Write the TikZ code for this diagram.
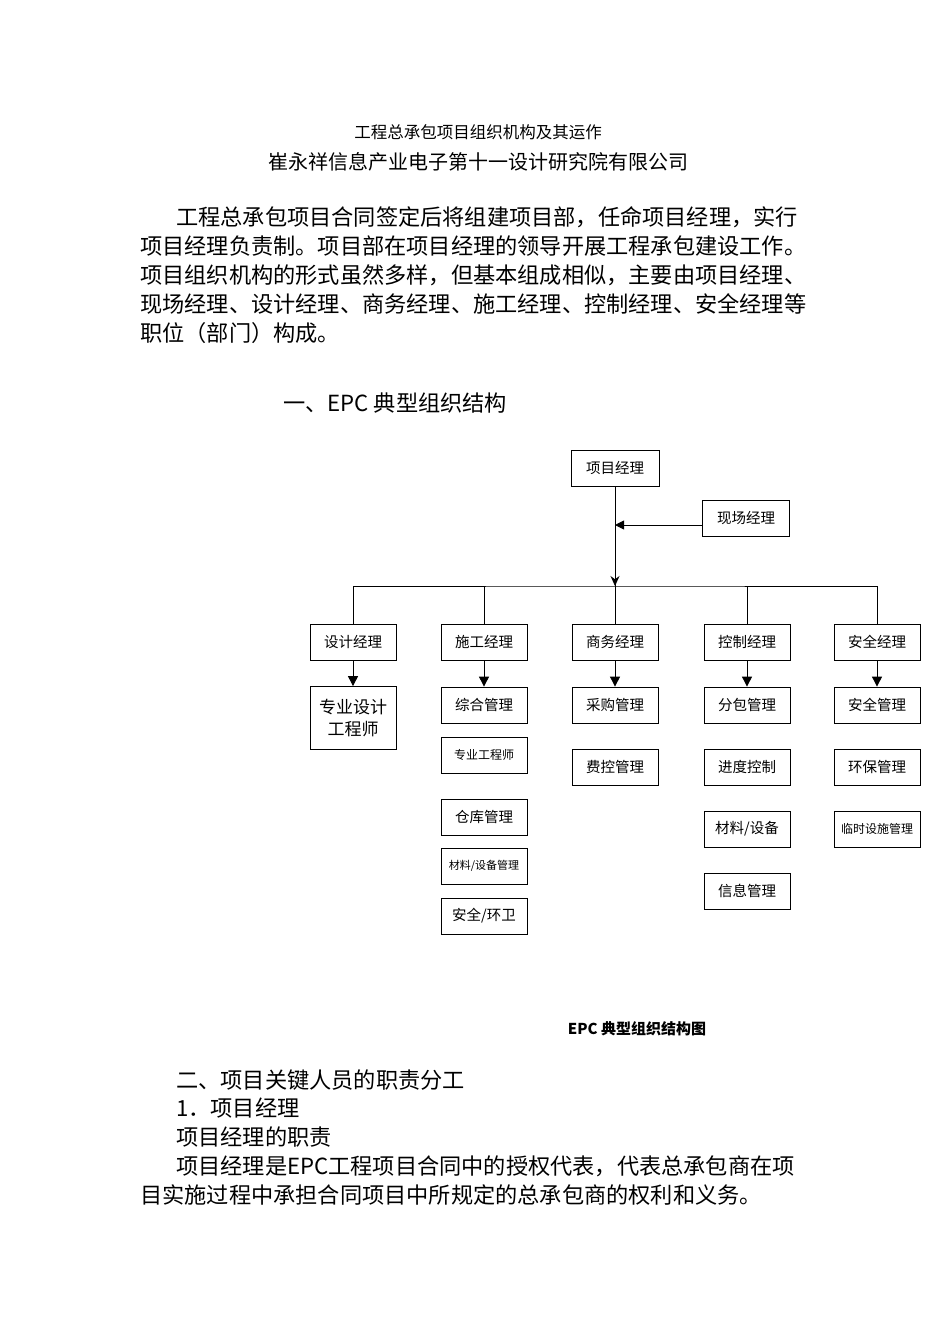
\documentclass[tikz,border=0pt]{standalone}
\usepackage{fontspec}
\setmainfont{Noto Sans CJK SC}
\usetikzlibrary{arrows.meta}
\begin{document}
\begin{tikzpicture}[x=1pt,y=-1pt,
  bx/.style={draw,thick,minimum height=36pt,inner sep=1pt,font=\fontsize{14.5}{16}\selectfont,align=center},
  txt/.style={anchor=base west,inner sep=0pt,font=\fontsize{22.2}{23}\selectfont},
  conn/.style={line width=0.9pt}]
\useasboundingbox (0,0) rectangle (950,1344);
\node[anchor=base,inner sep=0pt,font=\fontsize{16.5}{17}\selectfont] (t1) at (478,138) {工程总承包项目组织机构及其运作};
\node[anchor=base,inner sep=0pt,font=\fontsize{20}{21}\selectfont] (t2) at (478,169) {崔永祥信息产业电子第十一设计研究院有限公司};
\node[txt] (p1) at (176,225) {工程总承包项目合同签定后将组建项目部，任命项目经理，实行};
\node[txt] (p2) at (140,254) {项目经理负责制。项目部在项目经理的领导开展工程承包建设工作。};
\node[txt] (p3) at (140,283) {项目组织机构的形式虽然多样，但基本组成相似，主要由项目经理、};
\node[txt] (p4) at (140,312) {现场经理、设计经理、商务经理、施工经理、控制经理、安全经理等};
\node[txt] (p5) at (140,341) {职位（部门）构成。};
\node[txt] (h1) at (283,411) {一、EPC 典型组织结构};
% chart
\node[bx,minimum width=88pt] (pm) at (615,468) {项目经理};
\node[bx,minimum width=87pt] (xc) at (746,518) {现场经理};
\coordinate (j1) at (615,525);
\coordinate (bus) at (615,586);
\draw[conn] (pm) -- (bus);
\draw[conn,-{Triangle[length=9pt,width=9pt]}] (xc.west|-j1) -- (j1);
\draw[conn,-{Stealth[length=10pt,width=9pt]}] (pm.south) -- (bus);
\foreach \n/\x/\t in {sj/353/设计经理,sg/484/施工经理,sw/615/商务经理,kz/747/控制经理,aq/877/安全经理}{
  \node[bx,minimum width=86pt] (\n) at (\x,642) {\t};
}
\draw[conn] (sj.north) |- (bus) -| (aq.north);
\draw[conn] (sg.north) -- (sg.north|-bus);
\draw[conn] (sw.north) -- (bus);
\draw[conn] (kz.north) -- (kz.north|-bus);
\node[bx,minimum width=86pt,minimum height=63pt,font=\fontsize{17}{22}\selectfont] (sj1) at (353,718) {专业设计\\工程师};
\node[bx,minimum width=86pt] (sg1) at (484,705) {综合管理};
\node[bx,minimum width=86pt,font=\fontsize{12}{13}\selectfont] (sg2) at (484,755) {专业工程师};
\node[bx,minimum width=86pt] (sg3) at (484,817) {仓库管理};
\node[bx,minimum width=86pt,font=\fontsize{11}{12}\selectfont] (sg4) at (484,866) {材料/设备管理};
\node[bx,minimum width=86pt] (sg5) at (484,916) {安全/环卫};
\node[bx,minimum width=86pt] (sw1) at (615,705) {采购管理};
\node[bx,minimum width=86pt] (sw2) at (615,767) {费控管理};
\node[bx,minimum width=86pt] (kz1) at (747,705) {分包管理};
\node[bx,minimum width=86pt] (kz2) at (747,767) {进度控制};
\node[bx,minimum width=86pt] (kz3) at (747,829) {材料/设备};
\node[bx,minimum width=86pt] (kz4) at (747,891) {信息管理};
\node[bx,minimum width=86pt] (aq1) at (877,705) {安全管理};
\node[bx,minimum width=86pt] (aq2) at (877,767) {环保管理};
\node[bx,minimum width=86pt,font=\fontsize{12}{13}\selectfont] (aq3) at (877,829) {临时设施管理};
\foreach \a/\b in {sj/sj1,sg/sg1,sw/sw1,kz/kz1,aq/aq1}{
  \draw[conn,-{Triangle[length=10pt,width=10pt]}] (\a.south) -- (\b.north);
}
\node[anchor=base,inner sep=0pt,font=\fontsize{15}{16}\bfseries\selectfont] (cap) at (637,1034) {EPC 典型组织结构图};
\node[txt] (q1) at (176,1088) {二、项目关键人员的职责分工};
\node[txt] (q2) at (176,1116) {1．项目经理};
\node[txt] (q3) at (176,1145) {项目经理的职责};
\node[txt] (q4) at (176,1174) {项目经理是EPC工程项目合同中的授权代表，代表总承包商在项};
\node[txt] (q5) at (140,1203) {目实施过程中承担合同项目中所规定的总承包商的权利和义务。};
\end{tikzpicture}
\end{document}
